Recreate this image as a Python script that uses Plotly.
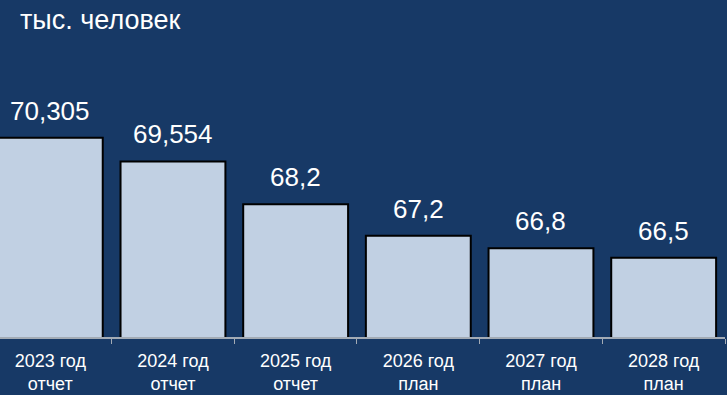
import plotly.graph_objects as go

categories = ["2023 год<br>отчет", "2024 год<br>отчет", "2025 год<br>отчет",
              "2026 год<br>план", "2027 год<br>план", "2028 год<br>план"]
values = [70.305, 69.554, 68.2, 67.2, 66.8, 66.5]
value_labels = ["70,305", "69,554", "68,2", "67,2", "66,8", "66,5"]
title_text = "тыс. человек"

BG = "#173966"
FONT = "Liberation Sans, Arial, sans-serif"

fig = go.Figure(go.Bar(
    x=categories, y=values,
    marker=dict(color="#C1D0E3", line=dict(color="black", width=2)),
    hoverinfo="skip",
))

for c, v, t in zip(categories, values, value_labels):
    fig.add_annotation(x=c, y=v, text=t, showarrow=False, yanchor="bottom",
                       yshift=10, font=dict(color="white", size=26, family=FONT))

fig.update_layout(
    width=727, height=395,
    paper_bgcolor=BG, plot_bgcolor=BG,
    margin=dict(l=0, r=2, t=60, b=58, autoexpand=False),
    bargap=0.145,
    showlegend=False,
    title=dict(text=title_text, x=20/727, xref="container", xanchor="left",
               y=1-20/395, yanchor="middle",
               font=dict(color="white", size=27, family=FONT)),
    xaxis=dict(range=[-0.41, 5.5], tickson="boundaries", ticks="outside",
               ticklen=5, tickcolor="#A3ABB5", showline=True, linecolor="#A3ABB5",
               linewidth=2, showgrid=False, ticklabelstandoff=6, automargin=False,
               tickfont=dict(color="white", size=18, family=FONT)),
    yaxis=dict(range=[63.99, 72.77], visible=False, showgrid=False),
)

fig.write_html("out.html", config={"displayModeBar": False},
               post_script="document.body.style.margin='0';")
